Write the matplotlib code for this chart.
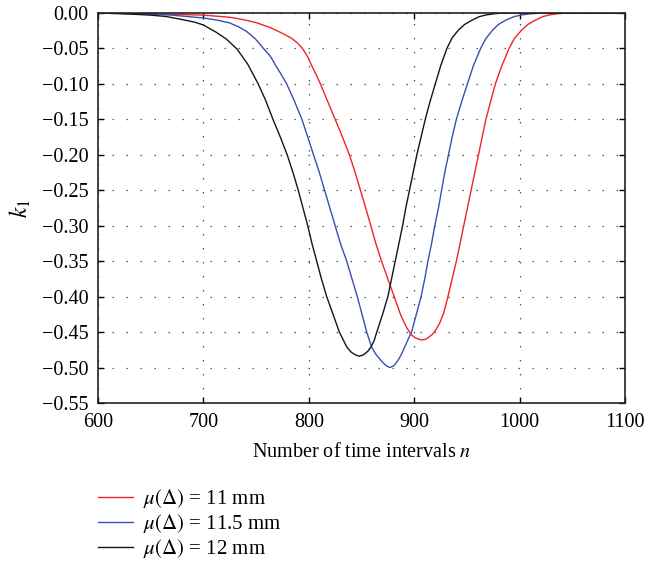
import matplotlib
matplotlib.use("Agg")
import matplotlib.pyplot as plt
from matplotlib.ticker import FuncFormatter

# values
n_11 = [600, 650, 700, 725, 740, 751, 764, 774, 783, 789, 794, 799, 803, 807, 811,
        818, 825, 832, 838.5, 844, 849, 854, 858.5, 863, 869, 875, 881, 887, 890, 893,
        897, 901, 905, 908, 911, 914, 917, 920, 924, 928, 932, 936, 940, 943.5, 947,
        950.5, 954, 957.5, 961, 964.5, 968, 972.5, 977, 983, 990, 995, 1002, 1008,
        1015, 1022, 1029, 1036, 1045, 1100]
k_11 = [0.0, -0.001, -0.003, -0.006, -0.010, -0.014, -0.021, -0.028, -0.035, -0.042,
        -0.050, -0.062, -0.075, -0.087, -0.100, -0.125, -0.150, -0.175, -0.200, -0.225,
        -0.250, -0.275, -0.298, -0.322, -0.350, -0.375, -0.400, -0.425, -0.435, -0.444,
        -0.4535, -0.458, -0.4605, -0.461, -0.460, -0.457, -0.4535, -0.448, -0.438, -0.423,
        -0.400, -0.375, -0.350, -0.325, -0.300, -0.275, -0.250, -0.225, -0.200, -0.175,
        -0.150, -0.125, -0.100, -0.075, -0.050, -0.036, -0.024, -0.016, -0.010, -0.005,
        -0.0025, -0.001, 0.0, 0.0]

n_115 = [600, 640, 670, 700, 713, 725, 734, 741, 749, 757, 763.5, 769, 774, 779, 786,
         793.5, 799, 804.5, 810, 815, 820, 825, 830, 836, 841, 846, 850.5, 855, 859.5,
         863.5, 869, 873, 877, 881, 885, 888, 891, 894, 897.5, 902, 906.5, 910, 913,
         916.5, 919.5, 923, 926, 929, 932.5, 936, 940, 945, 950.5, 956, 963, 968,
         974.5, 980, 987, 995, 1003, 1011, 1022, 1100]
k_115 = [0.0, -0.001, -0.003, -0.007, -0.010, -0.014, -0.020, -0.026, -0.036, -0.050,
         -0.061, -0.075, -0.087, -0.100, -0.123, -0.150, -0.175, -0.200, -0.225, -0.250,
         -0.275, -0.300, -0.325, -0.350, -0.375, -0.400, -0.425, -0.450, -0.471, -0.481,
         -0.491, -0.497, -0.500, -0.497, -0.489, -0.481, -0.471, -0.461, -0.450, -0.425,
         -0.400, -0.375, -0.350, -0.325, -0.300, -0.275, -0.250, -0.225, -0.200, -0.175,
         -0.150, -0.125, -0.100, -0.075, -0.050, -0.036, -0.024, -0.016, -0.010, -0.005,
         -0.0025, -0.001, 0.0, 0.0]

n_12 = [600, 630, 650, 665, 681, 692, 700, 712, 722, 732, 742, 752, 759, 766, 773,
        779.5, 785, 790, 794.5, 799, 803, 807.5, 812, 817, 823, 829, 833, 836, 840,
        844, 848, 852, 856, 859, 862, 864.5, 870, 875, 878.5, 882, 885.5, 889, 892,
        895.5, 899, 902.5, 906.5, 910.5, 915, 920, 925, 931, 936, 942, 948, 955, 962,
        969, 976, 985, 1100]
k_12 = [0.0, -0.0015, -0.003, -0.005, -0.0096, -0.013, -0.017, -0.027, -0.037, -0.051,
        -0.072, -0.100, -0.123, -0.150, -0.175, -0.200, -0.225, -0.250, -0.275, -0.300,
        -0.325, -0.350, -0.375, -0.400, -0.425, -0.450, -0.462, -0.471, -0.478, -0.482,
        -0.484, -0.482, -0.477, -0.471, -0.462, -0.450, -0.425, -0.400, -0.375, -0.350,
        -0.325, -0.300, -0.275, -0.250, -0.225, -0.200, -0.175, -0.150, -0.125, -0.100,
        -0.075, -0.050, -0.035, -0.024, -0.016, -0.010, -0.005, -0.0025, -0.001, 0.0, 0.0]

labels = [r"$\mu(\Delta)$ = 11 mm", r"$\mu(\Delta)$ = 11.5 mm", r"$\mu(\Delta)$ = 12 mm"]
colors = ["#f02424", "#3a4fae", "#151515"]

x_ticks = [600, 700, 800, 900, 1000, 1100]
y_ticks = [0.0, -0.05, -0.10, -0.15, -0.20, -0.25, -0.30, -0.35, -0.40, -0.45, -0.50, -0.55]

plt.rcParams["font.family"] = ["Liberation Serif", "DejaVu Serif"]
plt.rcParams["mathtext.fontset"] = "stix"

fig = plt.figure(figsize=(6.46, 5.67), dpi=100)
ax = fig.add_axes([98 / 646, 164 / 567, 527 / 646, 390 / 567])

for n, k, c, lab in zip([n_11, n_115, n_12], [k_11, k_115, k_12], colors, labels):
    ax.plot(n, k, color=c, linewidth=1.0, label=lab)

ax.set_xlim(600, 1100)
ax.set_ylim(-0.55, 0.0)
ax.set_xticks(x_ticks)
ax.set_yticks(y_ticks)


def fmt(v, pos):
    s = f"{v:.2f}"
    if s == "-0.00":
        s = "0.00"
    return s.replace("-", "\u2212")


ax.yaxis.set_major_formatter(FuncFormatter(fmt))
ax.tick_params(direction="in", length=4, width=1.0, labelsize=14.5,
               top=True, right=True, pad=7)
ax.grid(True, color="#555555", linestyle=(0, (1.2, 10)), linewidth=0.9)
for sp in ax.spines.values():
    sp.set_linewidth(1.2)
    sp.set_color("#222222")

ax.set_xlabel("Number of time intervals $n$", fontsize=14.5, labelpad=8)
ax.set_ylabel("$k_1$", fontsize=17, labelpad=6)

fig.legend(loc="upper left", bbox_to_anchor=(98 / 646, 1 - 487 / 567),
           frameon=False, fontsize=15, handlelength=1.7, handletextpad=0.45,
           labelspacing=0.1, borderpad=0, borderaxespad=0)

fig.savefig("out.png", dpi=100, facecolor="white")
